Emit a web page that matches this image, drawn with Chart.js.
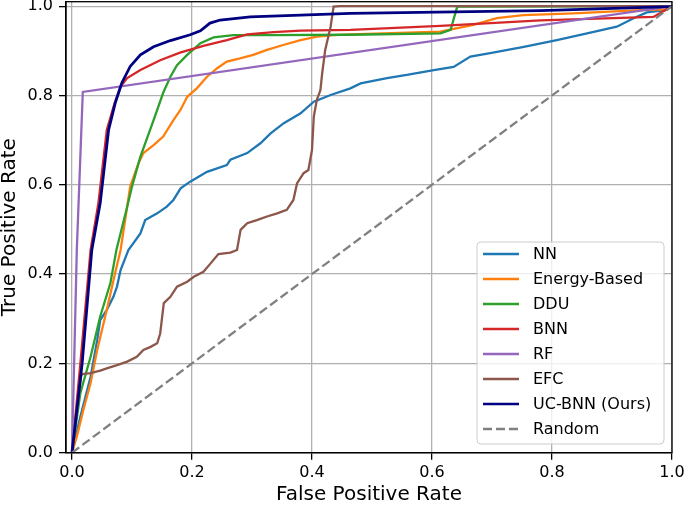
<!DOCTYPE html>
<html>
<head>
<meta charset="utf-8">
<script src="https://cdn.jsdelivr.net/npm/chart.js@4.4.1/dist/chart.umd.min.js"></script>
<style>
  html, body { margin: 0; padding: 0; background: #fff; }
  canvas { display: block; }
</style>
</head>
<body>
<canvas id="roc-chart" width="685" height="505"></canvas>
<script>
// tick positions on both axes
const tickVals = [0, 0.2, 0.4, 0.6, 0.8, 1.0];

const seriesNames = ['NN', 'Energy-Based', 'DDU', 'BNN', 'RF', 'EFC', 'UC-BNN (Ours)', 'Random'];

// values (false positive rate / true positive rate)
const nnFpr = [0, 0.014, 0.031, 0.042, 0.047, 0.058, 0.069, 0.075, 0.081, 0.092, 0.094, 0.114, 0.122, 0.142, 0.158, 0.169, 0.181, 0.197, 0.225, 0.258, 0.264, 0.292, 0.314, 0.331, 0.353, 0.381, 0.403, 0.431, 0.464, 0.481, 0.525, 0.558, 0.603, 0.636, 0.664, 0.697, 0.753, 0.808, 0.864, 0.908, 0.936, 0.958, 0.989, 1.0];
const nnTpr = [0, 0.081, 0.170, 0.252, 0.297, 0.320, 0.349, 0.372, 0.409, 0.447, 0.454, 0.491, 0.521, 0.536, 0.551, 0.566, 0.592, 0.607, 0.629, 0.644, 0.656, 0.671, 0.693, 0.715, 0.738, 0.760, 0.786, 0.801, 0.816, 0.827, 0.839, 0.846, 0.857, 0.864, 0.887, 0.895, 0.909, 0.924, 0.941, 0.954, 0.973, 0.986, 0.991, 1.0];

const energyFpr = [0, 0.008, 0.019, 0.031, 0.042, 0.058, 0.072, 0.081, 0.097, 0.111, 0.119, 0.136, 0.152, 0.169, 0.181, 0.192, 0.208, 0.225, 0.242, 0.258, 0.280, 0.302, 0.325, 0.352, 0.381, 0.408, 0.436, 0.464, 0.614, 0.669, 0.708, 0.752, 0.836, 0.947, 0.989, 1.0];
const energyTpr = [0, 0.036, 0.096, 0.156, 0.230, 0.320, 0.403, 0.454, 0.596, 0.649, 0.671, 0.689, 0.708, 0.745, 0.768, 0.797, 0.816, 0.842, 0.861, 0.876, 0.883, 0.891, 0.902, 0.913, 0.924, 0.932, 0.935, 0.937, 0.943, 0.958, 0.973, 0.980, 0.984, 0.991, 0.993, 1.0];

const dduFpr = [0, 0.014, 0.031, 0.047, 0.064, 0.074, 0.092, 0.100, 0.114, 0.136, 0.152, 0.164, 0.175, 0.192, 0.214, 0.236, 0.269, 0.325, 0.464, 0.614, 0.631, 0.642, 1.0];
const dduTpr = [0, 0.134, 0.215, 0.305, 0.380, 0.454, 0.551, 0.596, 0.663, 0.745, 0.806, 0.842, 0.868, 0.891, 0.917, 0.930, 0.935, 0.935, 0.936, 0.939, 0.947, 0.999, 1.0];

const bnnFpr = [0, 0.014, 0.031, 0.044, 0.058, 0.071, 0.081, 0.092, 0.114, 0.147, 0.180, 0.219, 0.258, 0.292, 0.336, 0.381, 0.464, 0.614, 0.781, 0.969, 1.0];
const bnnTpr = [0, 0.201, 0.454, 0.559, 0.723, 0.783, 0.820, 0.839, 0.857, 0.879, 0.896, 0.911, 0.924, 0.937, 0.942, 0.945, 0.947, 0.956, 0.968, 0.976, 1.0];

const rfFpr = [0, 0.008, 0.018, 1.0];
const rfTpr = [0, 0.454, 0.808, 1.0];

const efcFpr = [0, 0.015, 0.017, 0.031, 0.047, 0.058, 0.075, 0.092, 0.108, 0.119, 0.131, 0.142, 0.147, 0.153, 0.164, 0.175, 0.192, 0.203, 0.219, 0.231, 0.244, 0.264, 0.275, 0.281, 0.292, 0.308, 0.325, 0.342, 0.358, 0.369, 0.375, 0.386, 0.394, 0.400, 0.403, 0.408, 0.414, 0.417, 0.422, 0.431, 0.436, 0.447, 1.0];
const efcTpr = [0, 0.170, 0.176, 0.178, 0.184, 0.189, 0.196, 0.204, 0.215, 0.230, 0.237, 0.245, 0.267, 0.335, 0.349, 0.372, 0.383, 0.394, 0.405, 0.424, 0.445, 0.448, 0.454, 0.499, 0.514, 0.521, 0.529, 0.536, 0.544, 0.566, 0.603, 0.626, 0.633, 0.678, 0.753, 0.790, 0.812, 0.850, 0.902, 0.954, 0.999, 1.0, 1.0];

const ucbnnFpr = [0, 0.017, 0.033, 0.047, 0.061, 0.072, 0.083, 0.097, 0.114, 0.136, 0.164, 0.197, 0.214, 0.230, 0.247, 0.297, 0.381, 0.464, 0.781, 0.997, 1.0];
const ucbnnTpr = [0, 0.201, 0.454, 0.559, 0.723, 0.783, 0.828, 0.865, 0.891, 0.909, 0.923, 0.936, 0.945, 0.962, 0.969, 0.976, 0.980, 0.984, 0.990, 0.999, 1.0];

const randomFpr = [0, 1];
const randomTpr = [0, 1];

const seriesColors = ['#1f77b4', '#ff7f0e', '#2ca02c', '#d62728', '#9467bd', '#8c564b', '#000080', '#808080'];
const seriesX = [nnFpr, energyFpr, dduFpr, bnnFpr, rfFpr, efcFpr, ucbnnFpr, randomFpr];
const seriesY = [nnTpr, energyTpr, dduTpr, bnnTpr, rfTpr, efcTpr, ucbnnTpr, randomTpr];

function toPoints(xs, ys) {
    return xs.map((x, i) => ({x: x, y: ys[i]}));
}

const datasets = seriesNames.map((name, i) => ({
    label: name,
    data: toPoints(seriesX[i], seriesY[i]),
    borderColor: seriesColors[i],
    backgroundColor: seriesColors[i],
    borderWidth: name === 'UC-BNN (Ours)' ? 2.8 : 2.3,
    borderDash: name === 'Random' ? [9, 4] : [],
    pointRadius: 0,
    tension: 0,
    fill: false,
    // matplotlib draws later series on top
    order: seriesNames.length - i,
}));

const FONT = '"DejaVu Sans", "Liberation Sans", sans-serif';

// full black frame round the plot area
const frameBox = {
    id: 'frameBox',
    afterDatasetsDraw(chart) {
        const a = chart.chartArea;
        const ctx = chart.ctx;
        ctx.save();
        ctx.strokeStyle = '#000';
        ctx.lineWidth = 1.3;
        ctx.strokeRect(a.left, a.top, a.right - a.left, a.bottom - a.top);
        ctx.restore();
    }
};

// legend in the lower right corner, matplotlib style
const rocLegend = {
    id: 'rocLegend',
    afterDraw(chart) {
        const a = chart.chartArea;
        const ctx = chart.ctx;
        const boxRight = a.right - 8, boxBottom = a.bottom - 8.7;
        const boxW = 187, boxH = 202;
        const x0 = boxRight - boxW, y0 = boxBottom - boxH;
        ctx.save();
        ctx.beginPath();
        ctx.roundRect(x0, y0, boxW, boxH, 4);
        ctx.fillStyle = 'rgba(255,255,255,0.8)';
        ctx.fill();
        ctx.strokeStyle = '#cccccc';
        ctx.lineWidth = 1;
        ctx.stroke();
        ctx.font = '16px ' + FONT;
        ctx.textBaseline = 'middle';
        ctx.textAlign = 'left';
        chart.data.datasets.forEach((ds, i) => {
            const y = y0 + 12 + i * 25;
            ctx.beginPath();
            ctx.strokeStyle = ds.borderColor;
            ctx.lineWidth = 2.3;
            ctx.setLineDash(ds.borderDash);
            ctx.moveTo(x0 + 6, y);
            ctx.lineTo(x0 + 42, y);
            ctx.stroke();
            ctx.setLineDash([]);
            ctx.fillStyle = '#000';
            ctx.fillText(ds.label, x0 + 56, y + 1);
        });
        ctx.restore();
    }
};

function fixedTicks(scale) {
    scale.ticks = tickVals.map(v => ({value: v}));
}

var roc_chart = document.getElementById('roc-chart').getContext('2d');
var myChart = new Chart(roc_chart, {
    type: 'line',
    data: { datasets: datasets },
    options: {
        responsive: false,
        animation: false,
        layout: {
            padding: { left: 0, right: 13, top: 1.7, bottom: 0 }
        },
        plugins: {
            legend: { display: false },
            tooltip: { enabled: false },
            title: { display: false }
        },
        scales: {
            x: {
                type: 'linear',
                min: -0.01,
                max: 1.0,
                afterBuildTicks: fixedTicks,
                afterFit(scale) {
                    scale.height = 52.3;
                    scale.paddingLeft = 0;
                    scale.paddingRight = 0;
                },
                grid: {
                    color: '#b0b0b0',
                    lineWidth: 1.3,
                    tickColor: '#000',
                    tickLength: 7,
                    tickWidth: 1.3
                },
                border: { display: true, color: '#000', width: 1.3 },
                ticks: {
                    color: '#000',
                    padding: 4,
                    maxRotation: 0,
                    font: { family: FONT, size: 16 },
                    callback: v => v.toFixed(1)
                },
                title: {
                    display: true,
                    text: 'False Positive Rate',
                    color: '#000',
                    font: { family: FONT, size: 20, lineHeight: 1 },
                    padding: { top: 0, bottom: 0 }
                }
            },
            y: {
                type: 'linear',
                min: 0,
                max: 1.01,
                afterBuildTicks: fixedTicks,
                afterFit(scale) {
                    scale.width = 66;
                    scale.paddingTop = 0;
                    scale.paddingBottom = 0;
                },
                grid: {
                    color: '#b0b0b0',
                    lineWidth: 1.3,
                    tickColor: '#000',
                    tickLength: 7,
                    tickWidth: 1.3
                },
                border: { display: true, color: '#000', width: 1.3 },
                ticks: {
                    color: '#000',
                    padding: 6,
                    font: { family: FONT, size: 16 },
                    callback: v => v.toFixed(1)
                },
                title: {
                    display: true,
                    text: 'True Positive Rate',
                    color: '#000',
                    font: { family: FONT, size: 20, lineHeight: 1 },
                    padding: { top: 0, bottom: 0 }
                }
            }
        }
    },
    plugins: [frameBox, rocLegend]
});
</script>
</body>
</html>
